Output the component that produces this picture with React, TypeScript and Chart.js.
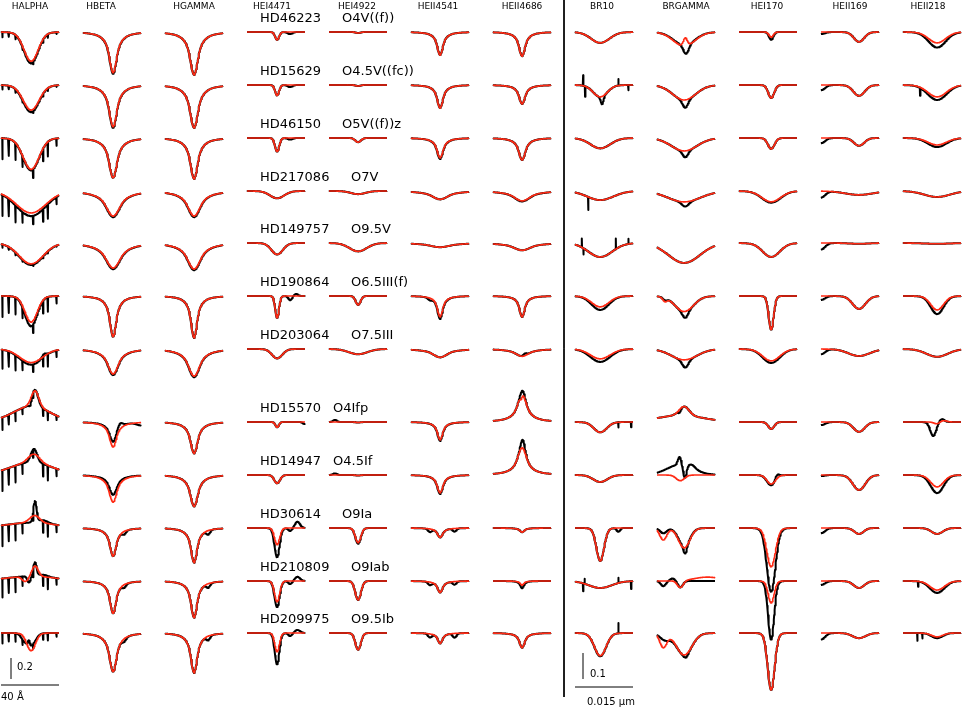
import { useEffect, useRef } from "react";
import { Chart, registerables } from "chart.js";

Chart.register(...registerables);

// ---------------- data ----------------
const stars = ["HD46223", "HD15629", "HD46150", "HD217086", "HD149757", "HD190864", "HD203064", "HD15570", "HD14947", "HD30614", "HD210809", "HD209975"];
const spectralTypes = ["O4V((f))", "O4.5V((fc))", "O5V((f))z", "O7V", "O9.5V", "O6.5III(f)", "O7.5III", "O4Ifp", "O4.5If", "O9Ia", "O9Iab", "O9.5Ib"];
const opticalLines = ["HALPHA", "HBETA", "HGAMMA", "HEI4471", "HEI4922", "HEII4541", "HEII4686"];
const infraredLines = ["BR10", "BRGAMMA", "HEI170", "HEII169", "HEII218"];
const lineNames = [...opticalLines, ...infraredLines];

// line position relative to panel centre (Å for optical, nm for infrared)
const lineShift = [0.7, 0.7, 0, 0.7, 0, 0, 0, -1.0, -0.5, 0.8, 2.3, 1.3];
const lineShape = ["gauss", "stark", "stark", "gauss", "gauss", "stark", "stark", "gauss", "gauss", "gauss", "gauss", "gauss"];

// central depth of model (red) profile, per line, per star (negative = emission)
const modelDepth = [
  [0.28, 0.24, 0.30, 0.21, 0.20, 0.25, 0.13, 0, 0, 0, 0, 0.17],
  [0.39, 0.40, 0.38, 0.24, 0.24, 0.39, 0.24, 0.24, 0.26, 0.27, 0.31, 0.37],
  [0.41, 0.41, 0.39, 0.24, 0.25, 0.40, 0.26, 0.30, 0.30, 0.33, 0.35, 0.38],
  [0.075, 0.10, 0.13, 0.07, 0.11, 0.21, 0.09, 0.05, 0.08, 0.16, 0.20, 0.18],
  [0.01, 0.01, 0.04, 0.03, 0.08, 0.085, 0.05, 0.005, 0.005, 0.14, 0.18, 0.16],
  [0.22, 0.22, 0.19, 0.08, 0.04, 0.20, 0.08, 0.17, 0.17, 0.09, 0.11, 0.10],
  [0.23, 0.18, 0.21, 0.095, 0.07, 0.20, 0.07, -0.26, -0.26, 0.04, 0.04, 0.14],
  [0.042, 0.046, 0.04, 0.035, 0.054, 0.042, 0.038, 0.04, 0.027, 0.127, 0.027, 0.088],
  [0.055, 0.058, 0.05, 0.042, 0.077, 0.06, 0.042, -0.035, 0, 0.077, 0, 0.085],
  [0.02, 0.05, 0.042, 0.042, 0.054, 0.13, 0.046, 0.027, 0.035, 0.15, 0.085, 0.22],
  [0.038, 0.042, 0.03, 0.015, 0.003, 0.05, 0.027, 0.038, 0.058, 0.023, 0.027, 0.02],
  [0.042, 0.046, 0.027, 0.023, 0.003, 0.054, 0.03, 0.008, 0.046, 0.023, 0.035, 0.015],
];

// central depth of observed (black) profile
const observedDepth = [
  [0.30, 0.26, 0.31, 0.24, 0.21, 0.29, 0.15, 0, 0, 0, 0, 0.12],
  [0.40, 0.41, 0.38, 0.25, 0.25, 0.39, 0.25, 0.19, 0.19, 0.27, 0.31, 0.37],
  [0.41, 0.41, 0.39, 0.25, 0.26, 0.40, 0.27, 0.30, 0.30, 0.33, 0.35, 0.38],
  [0.075, 0.10, 0.13, 0.07, 0.11, 0.21, 0.09, 0.05, 0.08, 0.28, 0.25, 0.30],
  [0.01, 0.01, 0.04, 0.03, 0.08, 0.085, 0.05, 0.005, 0.005, 0.15, 0.18, 0.16],
  [0.22, 0.22, 0.20, 0.08, 0.04, 0.22, 0.08, 0.18, 0.18, 0.09, 0.11, 0.10],
  [0.23, 0.18, 0.21, 0.10, 0.07, 0.20, 0.07, -0.26, -0.26, 0.04, 0.07, 0.14],
  [0.042, 0.046, 0.04, 0.035, 0.054, 0.054, 0.05, 0.04, 0.027, 0.127, 0.027, 0.09],
  [0.05, 0.058, 0.05, 0.042, 0.077, 0.06, 0.042, -0.035, 0, 0.07, 0, 0.085],
  [0.03, 0.05, 0.042, 0.045, 0.054, 0.13, 0.054, 0.027, 0.04, 0.246, 0.227, 0.22],
  [0.038, 0.042, 0.03, 0.015, 0.003, 0.05, 0.027, 0.038, 0.058, 0.023, 0.027, 0.02],
  [0.06, 0.058, 0.035, 0.023, 0.003, 0.07, 0.03, 0, 0.07, 0.023, 0.046, 0.02],
];

// full width at half depth (Å optical, nm infrared)
const lineFwhm = [
  [11.5, 13, 13, 24, 19.6, 10, 18.5, 6, 9, 8, 5, 7],
  [6.4, 6.6, 6.9, 12.2, 12.9, 5.5, 9.2, 6.2, 6.8, 5.5, 5.3, 6.2],
  [6.9, 6.9, 6.4, 11, 11.5, 5.3, 9.9, 6.2, 6.6, 5.3, 5.3, 5.5],
  [3.2, 3.2, 3.4, 11.5, 9.2, 3.0, 8.3, 2.8, 4.6, 4.1, 4.1, 3.7],
  [4, 4, 4.5, 12, 14, 3.9, 15, 4, 4, 4.4, 4.6, 4.4],
  [5, 5, 5.3, 14, 18, 4.6, 12.6, 4.6, 5, 4.6, 4.4, 4.1],
  [5.3, 5.3, 5.8, 14, 15, 4.6, 11.5, 8, 8, 4, 3, 4.6],
  [5.6, 4.3, 6.0, 8.0, 7.3, 5.2, 6.0, 3.9, 4.3, 2.3, 7.0, 3.5],
  [6.5, 7.0, 7.8, 10, 9.5, 5.6, 7.8, 3, 2.5, 3.4, 4, 4.7],
  [1.3, 1.8, 2.0, 5.7, 5.2, 1.5, 5.2, 1.8, 2.6, 2.6, 1.8, 2.1],
  [3.1, 3.4, 3.1, 8.5, 6, 3.9, 6.5, 3.4, 3.7, 2.8, 3.2, 3.9],
  [5.2, 5.7, 5.6, 7.8, 8, 3.9, 6.5, 1.8, 3.9, 3.4, 4.4, 3.4],
];

// extra components: [star, line, m=model | o=observed | b=both, offset from line, depth, fwhm]
const extraComponents: [number, number, string, number, number, number][] = [
  [6, 0, "o", 9, -0.03, 4],
  [7, 0, "b", 0.3, -0.15, 30], [7, 0, "m", 2.7, -0.15, 6], [7, 0, "o", 2.7, -0.16, 5], [7, 0, "o", -0.5, 0.04, 2],
  [8, 0, "b", 0.3, -0.12, 34], [8, 0, "m", 2.0, -0.08, 9], [8, 0, "o", 2.0, -0.13, 5],
  [9, 0, "b", 0, -0.05, 40], [9, 0, "m", 2.5, -0.07, 8], [9, 0, "o", 2.7, -0.2, 2.5], [9, 0, "o", 8, -0.03, 8],
  [10, 0, "b", 0, -0.045, 40], [10, 0, "m", -4, 0.05, 5], [10, 0, "m", 2.7, -0.1, 5],
  [10, 0, "o", -1.5, 0.06, 2.5], [10, 0, "o", 2.7, -0.13, 2.5], [10, 0, "o", 8, -0.02, 8],
  [11, 0, "o", -1.5, -0.05, 1.5], [11, 0, "o", -5, 0.05, 5],
  [7, 1, "o", 4.8, -0.04, 4], [7, 1, "o", 20, 0.03, 8],
  [9, 1, "o", 7.6, 0.03, 3], [10, 1, "o", 7.6, 0.03, 3], [11, 1, "o", 7.6, 0.03, 3],
  [9, 2, "o", 9.7, 0.04, 3], [10, 2, "o", 9.7, 0.04, 3], [11, 2, "o", 9.7, 0.04, 3],
  [0, 3, "o", 9, 0.02, 4], [1, 3, "o", 9, 0.02, 4], [2, 3, "o", 9, 0.015, 4],
  [5, 3, "o", 9, 0.04, 3], [5, 3, "o", 13, -0.02, 3], [7, 3, "o", 19, 0.02, 3],
  [9, 3, "o", 9, 0.03, 3], [9, 3, "o", 14, -0.06, 4],
  [10, 3, "o", 9, 0.03, 3], [10, 3, "o", 14, -0.04, 4],
  [11, 3, "o", 9, 0.03, 3], [11, 3, "o", 14, -0.03, 4],
  [7, 4, "o", -16, -0.02, 3], [8, 4, "o", -16, -0.015, 3],
  [5, 5, "o", -7, 0.02, 3],
  [9, 5, "o", -7, 0.03, 3], [9, 5, "o", 10, 0.03, 3],
  [10, 5, "o", -7, 0.03, 3], [10, 5, "o", 10, 0.03, 3],
  [11, 5, "o", -7, 0.035, 3], [11, 5, "o", 10, 0.04, 3],
  [6, 6, "o", 2, -0.02, 3],
  [7, 6, "m", -0.7, 0.04, 1.5], [7, 6, "o", 0.5, -0.04, 3], [8, 6, "o", 0.5, -0.08, 3],
  [1, 7, "o", 0.5, 0.03, 0.8], [9, 7, "o", 4.7, 0.015, 1],
  [0, 8, "m", 0.3, -0.032, 1.2], [0, 8, "o", 0.5, 0.035, 1.6],
  [1, 8, "o", 0.3, 0.03, 1.6], [2, 8, "o", 0.3, 0.025, 1.6], [3, 8, "o", 0.3, 0.018, 2],
  [5, 8, "m", -5, 0.015, 1.3], [5, 8, "o", -5, 0.01, 1.3], [5, 8, "o", 0.3, 0.025, 1.6],
  [6, 8, "o", 0.3, 0.03, 1.8],
  [7, 8, "b", -1, -0.025, 14], [7, 8, "o", -1.2, 0.012, 0.8],
  [8, 8, "m", -1, 0.022, 2.5], [8, 8, "o", -1, -0.04, 8], [8, 8, "o", -1.2, -0.03, 1],
  [8, 8, "o", 0.2, 0.05, 1], [8, 8, "o", 2, -0.012, 2],
  [9, 8, "m", -5.4, 0.046, 2.1], [9, 8, "o", -5.4, 0.02, 2], [9, 8, "o", 0.3, 0.03, 1],
  [10, 8, "m", -1, 0.027, 1.8], [10, 8, "m", 6, -0.015, 8],
  [10, 8, "o", -5.4, 0.02, 1.5], [10, 8, "o", -1, 0.025, 1.5], [10, 8, "o", -3, -0.01, 1.5],
  [11, 8, "m", -5.4, 0.054, 2.1], [11, 8, "o", -5, 0.025, 3], [11, 8, "o", 0.5, 0.012, 1.2],
  [8, 9, "o", 1.5, -0.015, 1.2],
  [7, 11, "o", -1, 0.054, 1.8], [7, 11, "o", 1.2, -0.012, 1.5], [7, 11, "m", 1.5, -0.006, 2],
];

// observed HeII 1.69 µm: depression at the blue edge of the window
const heii169BlueEdge = [0.008, 0.02, 0.02, 0.025, 0.025, 0.015, 0.02, 0.012, 0.004, 0.02, 0.015, 0.025];

// telluric absorption spikes in observed H-alpha (Å from panel centre)
const telluricOffsets = [-19, -14.5, -10, -5.2, 2.1, 9, 12.4, 18.3];
const telluricRelDepth = [1.0, 0.8, 0.8, 0.5, 0.4, 0.6, 0.7, 0.35];
const telluricStrength = [0.05, 0.04, 0.2, 0.2, 0.03, 0.2, 0.18, 0.12, 0.2, 0.2, 0.18, 0.1];

// sharp noise spikes in observed infrared spectra: [star, line, offset from line (nm), depth]
const sharpSpikes: [number, number, number, number][] = [
  [1, 7, -4.4, -0.04], [1, 7, -3.9, 0.04], [1, 7, 4.7, -0.025], [1, 7, 7.3, 0.02],
  [3, 7, -3.1, 0.05],
  [4, 7, -4.7, -0.035], [4, 7, -4.3, 0.023], [4, 7, 4.1, -0.04], [4, 7, 7.3, -0.02],
  [7, 7, 4.7, 0.02], [7, 7, 8, 0.02],
  [10, 7, -4.4, 0.03], [10, 7, -4.0, -0.02], [10, 7, 4.7, -0.02], [10, 7, 8, 0.03],
  [11, 7, 4.7, -0.04],
  [1, 11, -4.4, 0.03], [10, 11, -4.9, 0.02], [11, 11, -5.1, 0.03], [11, 11, -3.8, 0.02],
];

// normalised line shapes read from the profiles (u = distance / FWHM)
const shapeU = {
  gauss: [0, 0.1, 0.2, 0.3, 0.4, 0.5, 0.6, 0.7, 0.8, 0.9, 1.0, 1.1, 1.2, 1.3, 1.4, 1.5, 1.6, 1.8, 2.0],
  stark: [0, 0.1, 0.2, 0.3, 0.4, 0.5, 0.6, 0.7, 0.8, 0.9, 1.0, 1.2, 1.4, 1.7, 2.0, 2.5, 3.0, 4.0, 5.0, 6.0],
};
const shapeV = {
  gauss: [1, 0.973, 0.895, 0.779, 0.643, 0.502, 0.372, 0.262, 0.176, 0.113, 0.071, 0.044, 0.028, 0.018, 0.012, 0.008, 0.005, 0.002, 0],
  stark: [1, 0.965, 0.875, 0.755, 0.625, 0.5, 0.405, 0.335, 0.28, 0.24, 0.205, 0.155, 0.12, 0.085, 0.062, 0.04, 0.026, 0.012, 0.005, 0],
};

// scale bars
const fluxBarOptical = 0.2;
const fluxBarInfrared = 0.1;
const waveBarOptical = "40 Å";
const waveBarInfrared = "0.015 μm";

// ---------------- layout ----------------
const W = 962;
const H = 709;
const PANEL_W = 58;
const colLeft = [1, 83, 165, 247, 329, 411, 493, 575, 657, 739, 821, 903];
const rowBase = [32, 85, 138, 191, 243, 296, 349, 422, 475, 528, 581, 633];
const OPT_SCALE = 105;
const IR_SCALE = 260;
const OPT_SPAN = 40;
const IR_SPAN = 15;
const N_OPT = opticalLines.length;
const headerCenter = [30, 101, 194, 272, 357, 438, 522, 602, 686, 767, 850, 928];
const spTypeX = [342, 342, 342, 351, 351, 351, 351, 333, 333, 342, 351, 351];
const RED = "#ff2a14";

function shapeAt(u: number, kind: "gauss" | "stark") {
  const us = shapeU[kind];
  const vs = shapeV[kind];
  const a = Math.abs(u);
  if (a >= us[us.length - 1]) return 0;
  for (let i = 1; i < us.length; i++) {
    if (a <= us[i]) {
      const t = (a - us[i - 1]) / (us[i] - us[i - 1]);
      return vs[i - 1] + t * (vs[i] - vs[i - 1]);
    }
  }
  return 0;
}

function fluxAt(c: number, r: number, w: number, who: string, extras: typeof extraComponents) {
  const x = w - lineShift[c];
  const depth = who === "m" ? modelDepth[c][r] : observedDepth[c][r];
  let f = 1 - depth * shapeAt(x / lineFwhm[c][r], lineShape[c] as any);
  for (const e of extras) {
    if (e[2] === "b" || e[2] === who) f -= e[4] * shapeAt((x - e[3]) / e[5], "gauss");
  }
  if (c === 10 && who === "o") {
    const edge = -IR_SPAN / 2 - lineShift[c];
    f -= heii169BlueEdge[r] * shapeAt((x - edge) / 2.4, "gauss");
  }
  return f;
}

function buildDatasets() {
  const sets: any[] = [];
  lineNames.forEach((_, c) => {
    const span = c < N_OPT ? OPT_SPAN : IR_SPAN;
    const scale = c < N_OPT ? OPT_SCALE : IR_SCALE;
    const grid: number[] = [];
    for (let i = 0; i <= 140; i++) grid.push(-span / 2 + (span * i) / 140);
    stars.forEach((_s, r) => {
      const extras = extraComponents.filter((e) => e[0] === r && e[1] === c);
      const toPoint = (w: number, f: number) => ({
        x: colLeft[c] + (w / span + 0.5) * PANEL_W,
        y: rowBase[r] - (f - 1) * scale,
      });
      const model = grid.map((w) => toPoint(w, fluxAt(c, r, w, "m", extras)));
      const spikes: [number, number][] = [];
      if (c === 0) {
        telluricOffsets.forEach((o, k) => spikes.push([o, telluricStrength[r] * telluricRelDepth[k]]));
      }
      sharpSpikes.forEach((s) => {
        if (s[0] === r && s[1] === c) spikes.push([s[2] + lineShift[c], s[3]]);
      });
      const pts = grid.map((w) => ({ w, f: fluxAt(c, r, w, "o", extras) }));
      const dw = span * 0.0025;
      spikes.forEach(([w, a]) => {
        pts.push({ w: w - dw, f: fluxAt(c, r, w - dw, "o", extras) });
        pts.push({ w, f: fluxAt(c, r, w, "o", extras) - a });
        pts.push({ w: w + dw, f: fluxAt(c, r, w + dw, "o", extras) });
      });
      pts.sort((a, b) => a.w - b.w);
      const observed = pts.filter((p) => p.w >= -span / 2 && p.w <= span / 2).map((p) => toPoint(p.w, p.f));
      sets.push({
        label: `${stars[r]} ${lineNames[c]} observed`,
        data: observed,
        showLine: true,
        borderColor: "#000000",
        borderWidth: 2.0,
        borderJoinStyle: "round",
        pointRadius: 0,
        pointHoverRadius: 0,
        tension: 0,
        order: 2,
      });
      sets.push({
        label: `${stars[r]} ${lineNames[c]} model`,
        data: model,
        showLine: true,
        borderColor: RED,
        borderWidth: 1.6,
        borderJoinStyle: "round",
        pointRadius: 0,
        pointHoverRadius: 0,
        tension: 0,
        order: 1,
      });
    });
  });
  const frame = (data: { x: number; y: number }[], label: string) => ({
    label,
    data,
    showLine: true,
    borderColor: "#000000",
    borderWidth: 1,
    pointRadius: 0,
    pointHoverRadius: 0,
    tension: 0,
    order: 0,
  });
  sets.push(frame([{ x: 564, y: 0 }, { x: 564, y: 697 }], "divider"));
  sets.push(frame([{ x: 11, y: 679 }, { x: 11, y: 679 - fluxBarOptical * OPT_SCALE }], "flux bar optical"));
  sets.push(frame([{ x: colLeft[0], y: 685 }, { x: colLeft[0] + PANEL_W, y: 685 }], "wave bar optical"));
  sets.push(frame([{ x: 583, y: 679 }, { x: 583, y: 679 - fluxBarInfrared * IR_SCALE }], "flux bar infrared"));
  sets.push(frame([{ x: colLeft[N_OPT], y: 687 }, { x: colLeft[N_OPT] + PANEL_W, y: 687 }], "wave bar infrared"));
  return sets;
}

const textPlugin = {
  id: "panelText",
  afterDatasetsDraw(chart: any) {
    const { ctx } = chart;
    const sx = chart.scales.x;
    const sy = chart.scales.y;
    const px = (v: number) => sx.getPixelForValue(v);
    const py = (v: number) => sy.getPixelForValue(v);
    ctx.save();
    ctx.fillStyle = "#000";
    ctx.textBaseline = "alphabetic";
    ctx.font = '9px "DejaVu Sans"';
    ctx.textAlign = "center";
    lineNames.forEach((n, c) => ctx.fillText(n, px(headerCenter[c]), py(9)));
    ctx.font = '13px "DejaVu Sans"';
    ctx.textAlign = "left";
    stars.forEach((s, r) => {
      ctx.fillText(s, px(260), py(rowBase[r] - 10));
      ctx.fillText(spectralTypes[r], px(spTypeX[r]), py(rowBase[r] - 10));
    });
    ctx.font = '10px "DejaVu Sans"';
    ctx.fillText(String(fluxBarOptical), px(17), py(670));
    ctx.fillText(waveBarOptical, px(1), py(700));
    ctx.fillText(String(fluxBarInfrared), px(590), py(677));
    ctx.fillText(waveBarInfrared, px(587), py(705));
    ctx.restore();
  },
};

export default function App() {
  const ref = useRef<HTMLCanvasElement>(null);
  useEffect(() => {
    document.body.style.margin = "0";
    const canvas = ref.current;
    if (!canvas) return;
    const chart = new Chart(canvas, {
      type: "scatter",
      data: { datasets: buildDatasets() },
      options: {
        animation: false,
        responsive: false,
        maintainAspectRatio: false,
        events: [],
        layout: { padding: 0 },
        plugins: { legend: { display: false }, tooltip: { enabled: false }, title: { display: false } },
        scales: {
          x: { type: "linear", min: 0, max: W, display: false },
          y: { type: "linear", min: 0, max: H, reverse: true, display: false },
        },
      },
      plugins: [textPlugin],
    } as any);
    return () => chart.destroy();
  }, []);
  return (
    <div style={{ width: W, height: H, background: "#fff" }}>
      <canvas ref={ref} width={W} height={H} style={{ display: "block", width: W, height: H }} />
    </div>
  );
}
